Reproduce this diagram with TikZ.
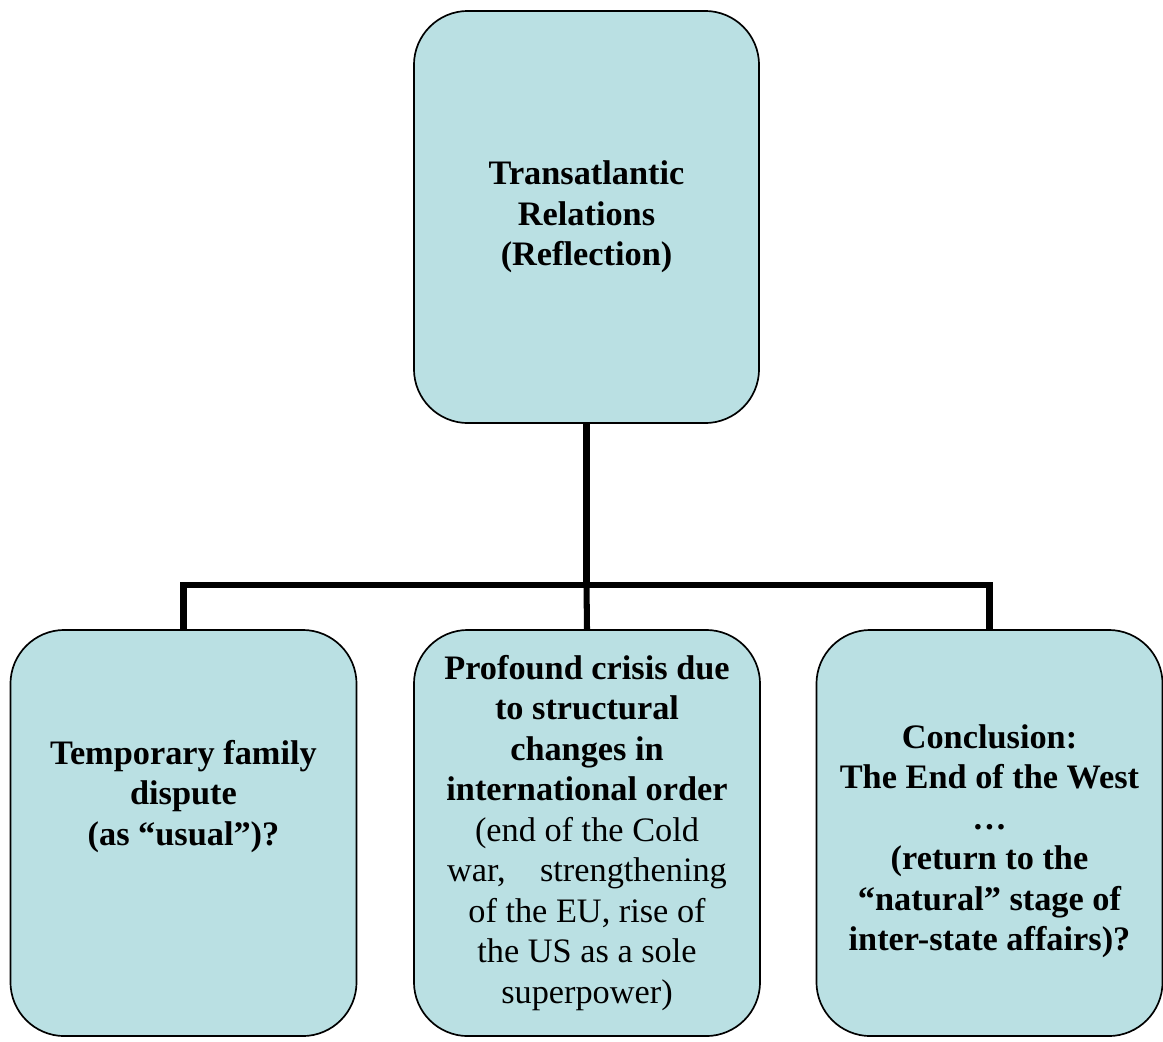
\documentclass[tikz,border=0pt]{standalone}
\usepackage{fontspec}
\setmainfont{Liberation Serif}
\usepackage{tikz}

\definecolor{boxblue}{RGB}{186,224,227}

\begin{document}
\begin{tikzpicture}[x=0.025cm,y=-0.025cm]
  \tikzset{topic/.style = {shape=rectangle,rounded corners=1.35cm,draw,line width=1.2pt,fill=boxblue,
      minimum width=8.65cm,minimum height=10.15cm,align=center,inner sep=2pt,
      font=\fontsize{24.4}{28.8}\selectfont}}
  \tikzset{link/.style = {line width=4.3pt}}

  \useasboundingbox (0,0) rectangle (1163,1041);

	\node[topic,minimum width=8.625cm,minimum height=10.3cm] (Top) at (586.5,217)
	  {\bfseries Transatlantic\\ \bfseries Relations\\ \bfseries (Reflection)};

	\node[topic] (Left) at (183.5,833)
	  {\bfseries Temporary family\\ \bfseries dispute\\ \bfseries (as ``usual'')?\\ ~\\ ~};
	\node[topic] (Mid) at (587,833)
	  {\bfseries Profound crisis due\\ \bfseries to structural\\ \bfseries changes in\\
	   \bfseries international order\\ (end of the Cold\\ war,\quad strengthening\\
	   of the EU, rise of\\ the US as a sole\\ superpower)};
	\node[topic] (Right) at (989.5,833)
	  {~\\ \bfseries Conclusion:\\ \bfseries The End of the West\\ \bfseries \dots\\
	   \bfseries (return to the\\ \bfseries ``natural'' stage of\\ \bfseries inter-state affairs)?};

	\coordinate (Hub) at (586.5,585);

	\draw[link] (Top.south) -- (Hub);
	\draw[link] (Left.north) |- (Hub) -| (Right.north);
	\draw[link] (Hub) -- (Mid.north);
\end{tikzpicture}
\end{document}
